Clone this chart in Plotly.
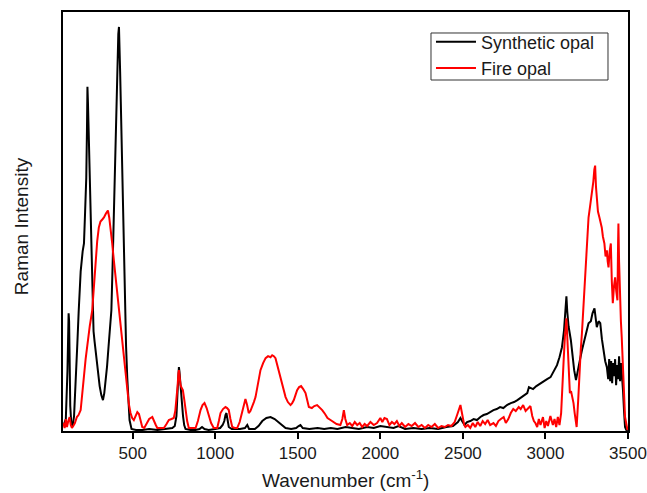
import plotly.graph_objects as go

# Synthetic opal (black) : wavenumber, intensity (arbitrary units)
synthetic_x = [80, 95, 105, 109, 112, 115, 118, 122, 128, 136, 145, 155, 165, 173, 185, 197, 205, 212, 219, 223,
               226, 229, 232, 236, 241, 245, 250, 256, 263, 269, 282, 292, 300, 310, 320, 328, 336, 345, 354, 362,
               371, 379, 386, 394, 401, 406, 410, 413, 417, 420, 424, 428, 432, 436, 439, 446, 453, 460, 467, 474,
               481, 493, 520, 560, 600, 650, 700, 740, 755, 765, 772, 777, 780, 783, 787, 792, 798, 805, 812, 820,
               850, 880, 905, 920, 935, 960, 1000, 1030, 1045, 1055, 1062, 1068, 1074, 1082, 1100, 1150, 1180, 1194,
               1205, 1240, 1262, 1285, 1310, 1335, 1360, 1390, 1410, 1426, 1460, 1490, 1505, 1516, 1530, 1570, 1620,
               1660, 1700, 1740, 1790, 1830, 1870, 1920, 1960, 2000, 2040, 2080, 2110, 2150, 2200, 2250, 2300, 2350,
               2400, 2440, 2470, 2485, 2495, 2510, 2525, 2545, 2565, 2585, 2606, 2625, 2645, 2665, 2685, 2705, 2725,
               2745, 2767, 2790, 2810, 2830, 2848, 2870, 2890, 2900, 2910, 2925, 2945, 2970, 2990, 3010, 3031, 3045,
               3060, 3070, 3085, 3100, 3112, 3120, 3127, 3132, 3140, 3154, 3165, 3174, 3185, 3195, 3205, 3221, 3240,
               3261, 3275, 3285, 3297, 3304, 3311, 3322, 3332, 3342, 3352, 3362, 3372, 3380, 3386, 3392, 3398, 3404,
               3410, 3416, 3422, 3428, 3434, 3440, 3446, 3452, 3458, 3462, 3470, 3476, 3482, 3490, 3498]
synthetic_y = [5, 12, 60, 100, 118, 110, 70, 25, 8, 5, 15, 45, 88, 120, 160, 180, 188, 220, 254, 300,
               345, 330, 310, 280, 240, 221, 170, 121, 100, 90, 71, 55, 45, 36, 31, 38, 50, 65, 85, 100,
               121, 170, 221, 270, 321, 360, 385, 398, 405, 392, 360, 330, 300, 250, 221, 170, 121, 85, 54, 30,
               11, 2, 1, 1, 2, 1, 2, 3, 5, 15, 40, 58, 64, 60, 50, 42, 30, 15, 6, 2,
               1, 1, 2, 4, 2, 1, 2, 3, 6, 10, 16, 18, 12, 4, 2, 2, 3, 6,
               2, 2, 5, 10, 13, 14, 12, 8, 5, 3, 2, 3, 5, 6, 3, 2, 3,
               2, 3, 2, 4, 3, 2, 4, 3, 5, 4, 3, 5, 2, 3, 2, 3, 2,
               4, 5, 9, 13, 10, 6, 9, 10, 12, 11, 14, 16, 17, 19, 21, 22, 24,
               23, 26, 28, 29, 31, 33, 35, 38, 44, 43, 42, 45, 48, 50, 52, 54, 58,
               62, 66, 74, 84, 100, 118, 135, 120, 105, 91, 72, 61, 51, 58, 68, 81, 95,
               108, 110, 118, 123, 112, 104, 110, 108, 92, 81, 70, 64, 52, 72, 50, 70, 48,
               68, 55, 72, 46, 66, 52, 75, 50, 68, 60, 40, 20, 4, 1, 0]

# Fire opal (red)
fire_x = [80, 88, 95, 102, 110, 118, 125, 132, 140, 150, 162, 172, 185, 195, 205, 215, 225, 240, 255, 265,
          275, 285, 295, 305, 316, 326, 338, 350, 358, 366, 376, 386, 396, 407, 417, 427, 437, 447, 457, 467,
          477, 487, 497, 507, 518, 528, 538, 548, 558, 570, 585, 600, 619, 632, 640, 649, 670, 689, 705, 719,
          735, 749, 758, 766, 772, 777, 780, 784, 790, 797, 804, 812, 820, 830, 840, 860, 881, 895, 911, 923,
          935, 948, 961, 975, 991, 1012, 1022, 1032, 1047, 1062, 1072, 1082, 1092, 1103, 1118, 1133, 1148, 1163,
          1173, 1183, 1193, 1203, 1213, 1224, 1234, 1244, 1259, 1274, 1290, 1305, 1320, 1335, 1345, 1355, 1365,
          1380, 1395, 1410, 1426, 1440, 1456, 1466, 1476, 1486, 1496, 1508, 1520, 1533, 1547, 1557, 1567, 1585,
          1600, 1617, 1632, 1648, 1665, 1680, 1698, 1715, 1735, 1758, 1770, 1779, 1788, 1799, 1815, 1830, 1845,
          1860, 1875, 1890, 1905, 1920, 1940, 1960, 1980, 2000, 2012, 2025, 2040, 2055, 2070, 2085, 2100, 2115,
          2130, 2150, 2170, 2190, 2210, 2230, 2250, 2270, 2290, 2310, 2330, 2350, 2370, 2390, 2410, 2430, 2450,
          2465, 2475, 2485, 2492, 2500, 2508, 2515, 2530, 2545, 2560, 2575, 2590, 2605, 2620, 2635, 2650, 2665,
          2685, 2700, 2715, 2730, 2747, 2760, 2775, 2790, 2805, 2820, 2838, 2850, 2865, 2880, 2895, 2909, 2920,
          2930, 2939, 2950, 2960, 2970, 2985, 2995, 3005, 3015, 3030, 3045, 3055, 3065, 3075, 3085, 3095, 3100,
          3110, 3118, 3127, 3136, 3142, 3148, 3155, 3163, 3170, 3177, 3183, 3189, 3198, 3207, 3214, 3221, 3230,
          3241, 3250, 3261, 3270, 3281, 3290, 3296, 3301, 3306, 3311, 3318, 3327, 3334, 3341, 3348, 3357, 3364,
          3372, 3377, 3382, 3389, 3396, 3402, 3408, 3415, 3422, 3429, 3436, 3440, 3442, 3446, 3452, 3457, 3462,
          3468, 3472, 3478, 3482, 3490, 3497]
fire_y = [8, 3, 12, 4, 10, 14, 6, 3, 5, 8, 14, 16, 21, 35, 55, 72, 88, 105, 121, 145,
          171, 190, 204, 210, 212, 214, 218, 221, 214, 204, 188, 171, 155, 138, 121, 104, 88, 71, 55, 38,
          27, 18, 13, 11, 15, 19, 17, 9, 4, 3, 8, 12, 14, 10, 6, 3, 3, 3, 7, 11,
          12, 13, 20, 31, 45, 58, 61, 55, 46, 43, 41, 32, 21, 10, 3, 3, 3, 10, 21, 26,
          28, 23, 16, 8, 3, 3, 10, 18, 22, 24, 23, 21, 12, 4, 3, 3, 9, 18,
          26, 32, 26, 18, 20, 24, 29, 34, 48, 61, 68, 73, 75, 74, 76, 75, 73,
          64, 54, 44, 34, 29, 26, 28, 31, 36, 41, 44, 45, 42, 38, 31, 24, 23,
          25, 26, 24, 21, 17, 13, 11, 9, 7, 6, 12, 21, 12, 6, 8, 5, 9,
          6, 8, 4, 7, 5, 9, 6, 8, 13, 9, 13, 12, 6, 9, 7, 10, 5,
          8, 4, 7, 5, 8, 4, 6, 3, 6, 4, 7, 3, 5, 4, 6, 5, 9,
          16, 22, 26, 20, 12, 6, 4, 6, 3, 8, 4, 9, 5, 10, 7, 11, 6,
          8, 5, 10, 12, 14, 8, 12, 18, 22, 20, 24, 22, 26, 20, 23, 25, 15,
          10, 8, 4, 12, 6, 14, 3, 10, 5, 15, 6, 12, 4, 14, 6, 18, 41,
          70, 95, 113, 81, 55, 38, 40, 34, 28, 18, 10, 4, 30, 64, 82, 98, 125,
          154, 185, 214, 225, 238, 250, 262, 266, 245, 231, 220, 214, 210, 204, 195, 188, 175,
          181, 170, 164, 180, 188, 150, 128, 145, 154, 140, 131, 190, 208, 170, 124, 110, 94,
          75, 54, 30, 14, 4, 1]

x_ticks = [500, 1000, 1500, 2000, 2500, 3000, 3500]

FONT = "Liberation Sans, Arial, sans-serif"
TEXT_COLOR = "#1a1a1a"

fig = go.Figure()
fig.add_trace(go.Scatter(x=synthetic_x, y=synthetic_y, mode="lines", name="Synthetic opal",
                         line=dict(color="black", width=2)))
fig.add_trace(go.Scatter(x=fire_x, y=fire_y, mode="lines", name="Fire opal",
                         line=dict(color="red", width=2)))

fig.update_layout(
    width=647, height=493,
    autosize=False,
    margin=dict(l=63, r=19, t=12, b=62, autoexpand=False),
    paper_bgcolor="white", plot_bgcolor="white",
    font=dict(family=FONT, color="black"),
    showlegend=True,
    legend=dict(x=0.6513, y=0.9726, xanchor="left", yanchor="top",
                borderwidth=0, bgcolor="rgba(0,0,0,0)",
                font=dict(size=18, family=FONT, color=TEXT_COLOR), itemwidth=40,
                tracegroupgap=0),
    xaxis=dict(range=[78, 3500], tickvals=x_ticks, ticktext=[str(t) for t in x_ticks],
               showline=True, linecolor="black", linewidth=2, mirror=True,
               ticks="outside", ticklen=6, tickwidth=2, tickcolor="black",
               showgrid=False, zeroline=False, automargin=False,
               tickfont=dict(size=17, family=FONT, color=TEXT_COLOR)),
    yaxis=dict(range=[0, 420], showline=True, linecolor="black", linewidth=2, mirror=True,
               showticklabels=False, ticks="", showgrid=False, zeroline=False, automargin=False),
    shapes=[
        dict(type="rect", xref="paper", yref="paper", x0=0.6513, x1=0.9646, y0=0.8377, y1=0.9499,
             line=dict(color="#333333", width=1), fillcolor="white", layer="below"),
    ],
    annotations=[
        dict(text="Wavenumber (cm<sup>-1</sup>)", xref="paper", yref="paper",
             x=0.5, y=-0.115, xanchor="center", yanchor="middle", showarrow=False,
             font=dict(size=19, family=FONT, color=TEXT_COLOR)),
        dict(text="Raman Intensity", xref="paper", yref="paper",
             x=-0.0743, y=0.489, xanchor="center", yanchor="middle", textangle=-90,
             showarrow=False, font=dict(size=19, family=FONT, color=TEXT_COLOR)),
    ],
)

fig.write_html(
    "out.html",
    config={"displayModeBar": False, "responsive": False},
    post_script=("document.documentElement.style.overflow='hidden';"
                 "document.body.style.overflow='hidden';"
                 "document.body.style.margin='0px';document.body.style.padding='0px';"),
)
